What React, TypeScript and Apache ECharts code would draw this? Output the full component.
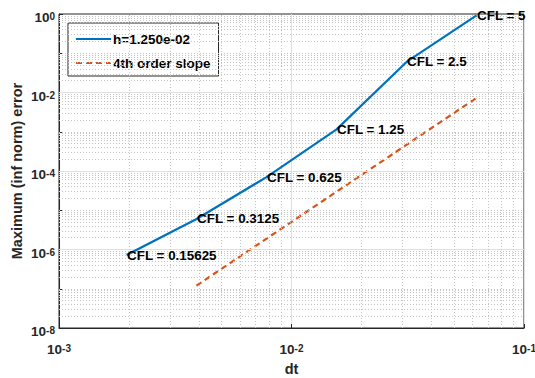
import React, { useEffect, useRef } from 'react';
import * as echarts from 'echarts';

const cflLabels = ['0.15625', '0.3125', '0.625', '1.25', '2.5', '5'];
const dtValues = [0.001953125, 0.00390625, 0.0078125, 0.015625, 0.03125, 0.0625];
const errValues = [7.2e-7, 6.0e-6, 7.0e-5, 1.15e-3, 0.06, 0.92];
const slopeDt = [0.0039, 0.0625];
const slopeErr = [1.2e-7, 7.3e-3];
const seriesNames = ['h=1.250e-02', '4th order slope'];
const xMajorExp = [-3, -2, -1];
const yMajorExp = [-8, -6, -4, -2, 0];
const xRange = [1e-3, 1e-1];
const yRange = [1e-8, 1];

const FONT = '"Liberation Sans", Arial, Helvetica, sans-serif';
const AX = '#262626';

function buildGridLines() {
  const items: any[] = [];
  const minor = { color: '#c4c4c4', width: 1, type: [1, 2] };
  const major = { color: '#e0e0e0', width: 1, type: 'solid' };
  for (let e = -8; e <= -1; e++) {
    for (let m = 1; m <= 9; m++) {
      const v = m * Math.pow(10, e);
      if (m === 1 && yMajorExp.includes(e)) {
        if (e === -8) continue;
        items.push([{ coord: [xRange[0], v], lineStyle: major }, { coord: [xRange[1], v] }]);
      } else {
        items.push([{ coord: [xRange[0], v], lineStyle: minor }, { coord: [xRange[1], v] }]);
      }
    }
  }
  for (let e = -3; e <= -2; e++) {
    for (let m = 2; m <= 9; m++) {
      const v = m * Math.pow(10, e);
      items.push([{ coord: [v, yRange[0]], lineStyle: minor }, { coord: [v, yRange[1]] }]);
    }
  }
  return items;
}

const tickRich = {
  b: { fontSize: 13.5, fontWeight: 'bold', color: AX, fontFamily: FONT, verticalAlign: 'bottom', lineHeight: 13 },
  s: { fontSize: 10, fontWeight: 'bold', color: AX, fontFamily: FONT, verticalAlign: 'top', lineHeight: 10, padding: [0, 0, 7, 0] },
};

const fmtFor = (exps: number[]) => (v: number) => {
  const e = Math.round(Math.log10(v));
  return exps.includes(e) ? `{b|10}{s|${e}}` : '';
};

export default function App() {
  const ref = useRef<HTMLDivElement>(null);
  useEffect(() => {
    const chart = echarts.init(ref.current!, null, { renderer: 'svg' });
    const blueData = dtValues.map((x, i) => [x, errValues[i]]);
    const slopeData = slopeDt.map((x, i) => [x, slopeErr[i]]);
    chart.setOption({
      animation: false,
      backgroundColor: '#ffffff',
      textStyle: { fontFamily: FONT },
      grid: {
        left: 59, right: 11, top: 14, bottom: 50,
        containLabel: false, outerBoundsMode: 'none',
        show: true, borderColor: AX, borderWidth: 1, backgroundColor: 'transparent',
      },
      legend: {
        data: seriesNames,
        orient: 'vertical',
        left: 68,
        top: 23,
        padding: [9, 8, 6, 7],
        itemWidth: 35,
        itemHeight: 14,
        itemGap: 10,
        backgroundColor: '#ffffff',
        borderColor: AX,
        borderWidth: 1,
        itemStyle: { opacity: 0 },
        textStyle: { fontSize: 13.5, fontWeight: 'bold', color: '#000', fontFamily: FONT, padding: [0, 0, 0, -3] },
      },
      xAxis: {
        type: 'log',
        logBase: 10,
        min: xRange[0],
        max: xRange[1],
        name: 'dt',
        nameLocation: 'middle',
        nameMoveOverlap: false,
        nameGap: 33,
        nameTextStyle: { fontSize: 14.5, fontWeight: 'bold', color: AX, fontFamily: FONT },
        axisLine: { show: true, lineStyle: { color: AX } },
        axisTick: { show: true, inside: true, length: 4, lineStyle: { color: AX } },
        splitLine: { show: true, lineStyle: { color: '#e0e0e0', width: 1 } },
        axisLabel: { margin: 15, formatter: fmtFor(xMajorExp), rich: tickRich },
      },
      yAxis: {
        type: 'log',
        logBase: 10,
        min: yRange[0],
        max: yRange[1],
        name: 'Maximum (inf norm) error',
        nameLocation: 'middle',
        nameMoveOverlap: false,
        nameGap: 35,
        nameTextStyle: { fontSize: 14.5, fontWeight: 'bold', color: AX, fontFamily: FONT },
        axisLine: { show: true, lineStyle: { color: AX } },
        axisTick: { show: true, inside: true, length: 4, lineStyle: { color: AX } },
        splitLine: { show: false },
        axisLabel: { margin: 4, padding: [8, 0, 0, 0], formatter: fmtFor(yMajorExp), rich: tickRich },
      },
      series: [
        {
          name: '__grid',
          type: 'line',
          data: blueData,
          symbol: 'none',
          silent: true,
          z: 1,
          lineStyle: { opacity: 0 },
          markLine: {
            silent: true,
            symbol: ['none', 'none'],
            label: { show: false },
            emphasis: { disabled: true },
            animation: false,
            data: buildGridLines(),
          },
        },
        {
          name: seriesNames[0],
          type: 'line',
          data: blueData,
          z: 5,
          symbol: 'circle',
          symbolSize: 1,
          showSymbol: true,
          itemStyle: { color: 'rgba(0,0,0,0)' },
          color: '#0072BD',
          lineStyle: { color: '#0072BD', width: 2.2 },
          label: {
            show: true,
            position: 'right',
            distance: 0,
            color: '#000',
            fontSize: 13.4,
            fontWeight: 'bold',
            fontFamily: FONT,
            formatter: (p: any) => 'CFL = ' + cflLabels[p.dataIndex],
          },
        },
        {
          name: seriesNames[1],
          type: 'line',
          data: slopeData,
          z: 4,
          symbol: 'none',
          color: '#D95319',
          lineStyle: { color: '#D95319', width: 2.2, type: [6, 4] },
        },
      ],
    });
    return () => chart.dispose();
  }, []);
  return <div ref={ref} style={{ position: 'fixed', left: 0, top: 0, width: 535, height: 378, background: '#fff' }} />;
}
